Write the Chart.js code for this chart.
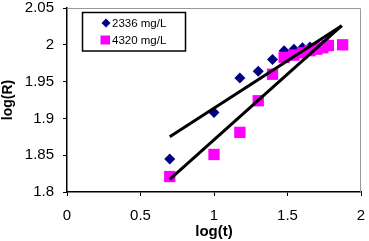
<!DOCTYPE html>
<html>
<head>
<meta charset="utf-8">
<script src="https://cdn.jsdelivr.net/npm/chart.js@4"></script>
<style>
  html, body { margin: 0; padding: 0; background: #fff; }
  #wrap { width: 369px; height: 241px; }
</style>
</head>
<body>
<div id="wrap"><canvas id="rChart" width="369" height="241"></canvas></div>
<script>
const lowX = [0.699, 1.0, 1.176, 1.301, 1.398, 1.477, 1.544, 1.602, 1.653, 1.699, 1.740, 1.778];
const lowY = [1.845, 1.908, 1.955, 1.964, 1.980, 1.992, 1.994, 1.996, 1.997, 1.998, 1.999, 2.000];
const highX = [0.699, 1.0, 1.176, 1.301, 1.398, 1.477, 1.544, 1.602, 1.653, 1.699, 1.740, 1.778, 1.875];
const highY = [1.821, 1.851, 1.881, 1.924, 1.960, 1.983, 1.986, 1.989, 1.992, 1.994, 1.996, 1.999, 2.000];
const fitX = [0.699, 1.869];
const fitLowY = [1.875, 2.026];
const fitHighY = [1.817, 2.026];
const seriesNames = ['2336 mg/L', '4320 mg/L'];

const toPoints = (xs, ys) => xs.map((x, i) => ({ x: x, y: ys[i] }));
const FONT = 'Liberation Sans, Arial, sans-serif';

const ctx = document.getElementById('rChart').getContext('2d');

const chart = new Chart(ctx, {
    type: 'scatter',
    data: {
        datasets: [{
            label: seriesNames[0],
            data: toPoints(lowX, lowY),
            pointStyle: 'rectRot',
            pointRadius: 5.5,
            backgroundColor: '#000080',
            borderColor: '#000080',
            borderWidth: 0,
            order: 3
        }, {
            label: seriesNames[1],
            data: toPoints(highX, highY),
            pointStyle: 'rect',
            pointRadius: 8,
            backgroundColor: '#ff00ff',
            borderColor: '#ff00ff',
            borderWidth: 0,
            order: 2
        }, {
            type: 'line',
            data: toPoints(fitX, fitLowY),
            borderColor: '#000',
            borderWidth: 3,
            pointRadius: 0,
            order: 1
        }, {
            type: 'line',
            data: toPoints(fitX, fitHighY),
            borderColor: '#000',
            borderWidth: 3,
            pointRadius: 0,
            order: 1
        }]
    },
    options: {
        responsive: false,
        animation: false,
        layout: { padding: { top: 7, right: 7, left: 0, bottom: 0 } },
        plugins: {
            legend: { display: false },
            tooltip: { enabled: false }
        },
        scales: {
            x: {
                type: 'linear',
                min: 0,
                max: 2,
                ticks: { stepSize: 0.5, color: '#000', font: { family: FONT, size: 15 }, padding: 11,
                         callback: v => String(Math.round(v * 10) / 10) },
                grid: { display: true, drawOnChartArea: false, drawTicks: true, tickLength: 4, color: '#000' },
                border: { display: true, color: '#000', width: 1.5 },
                title: { display: true, text: 'log(t)', color: '#000', font: { family: FONT, size: 15, weight: 'bold' }, padding: 0 },
                afterFit: s => { s.height = 49; s.paddingRight = 0; s.paddingLeft = 0; }
            },
            y: {
                min: 1.8,
                max: 2.05,
                ticks: { stepSize: 0.05, color: '#000', font: { family: FONT, size: 15 }, padding: 9,
                         callback: v => String(Math.round(v * 100) / 100) },
                grid: { display: true, drawOnChartArea: false, drawTicks: true, tickLength: 4, color: '#000' },
                border: { display: true, color: '#000', width: 1.5 },
                title: { display: true, text: 'log(R)', color: '#000', font: { family: FONT, size: 14, weight: 'bold' }, padding: 0 },
                afterFit: s => { s.width = 67; s.paddingTop = 0; s.paddingBottom = 0; }
            }
        }
    },
    plugins: [{
        id: 'frameAndLegend',
        beforeDatasetsDraw: chart => {
            const c = chart.ctx;
            const a = chart.chartArea;
            c.save();
            c.strokeStyle = '#999';
            c.lineWidth = 1;
            c.beginPath();
            c.moveTo(a.left, a.top + 0.5);
            c.lineTo(a.right - 0.5, a.top + 0.5);
            c.lineTo(a.right - 0.5, a.bottom);
            c.stroke();
            c.restore();
        },
        afterDraw: chart => {
            const c = chart.ctx;
            c.save();
            c.fillStyle = '#fff';
            c.fillRect(82.5, 12.5, 103, 38.5);
            c.strokeStyle = '#000';
            c.lineWidth = 1.5;
            c.strokeRect(82.5, 12.5, 103, 38.5);
            c.font = '11.5px ' + FONT;
            c.textBaseline = 'middle';
            const rows = [23, 40];
            chart.data.datasets.slice(0, 2).forEach((ds, i) => {
                const y = rows[i];
                c.fillStyle = ds.backgroundColor;
                c.beginPath();
                if (ds.pointStyle === 'rectRot') {
                    c.moveTo(106, y - 4.5);
                    c.lineTo(110.5, y);
                    c.lineTo(106, y + 4.5);
                    c.lineTo(101.5, y);
                    c.closePath();
                    c.fill();
                } else {
                    c.fillRect(100.5, y - 4.5, 9.5, 9);
                }
                c.fillStyle = '#000';
                c.fillText(ds.label, 112, y + 0.5);
            });
            c.restore();
        }
    }]
});
</script>
</body>
</html>
